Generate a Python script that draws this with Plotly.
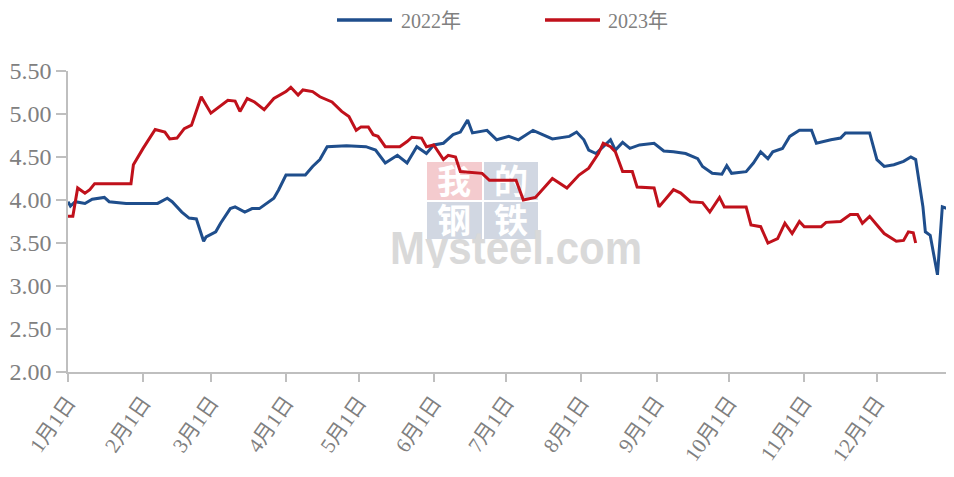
import base64
import plotly.graph_objects as go

# ---------------- data ----------------
dates_2022 = ["01-01", "01-02", "01-04", "01-08", "01-11", "01-16", "01-18", "01-25",
              "02-07", "02-11", "02-13", "02-17", "02-20", "02-23", "02-26", "02-27",
              "03-03", "03-05", "03-09", "03-11", "03-15", "03-18", "03-21", "03-25",
              "03-27", "03-29", "04-01", "04-09", "04-12", "04-15", "04-18", "04-26",
              "05-04", "05-08", "05-12", "05-17", "05-21", "05-25", "05-29", "06-01",
              "06-05", "06-09", "06-12", "06-15", "06-17", "06-23", "06-27", "07-02",
              "07-06", "07-12", "07-16", "07-20", "07-27", "07-30", "08-02", "08-04",
              "08-07", "08-10", "08-13", "08-15", "08-18", "08-21", "08-25", "08-31",
              "09-04", "09-08", "09-13", "09-18", "09-20", "09-24", "09-28", "09-30",
              "10-02", "10-08", "10-11", "10-14", "10-17", "10-19", "10-23", "10-26",
              "10-30", "11-04", "11-06", "11-12", "11-16", "11-18", "11-28", "12-01",
              "12-04", "12-08", "12-12", "12-15", "12-17", "12-20", "12-21", "12-23",
              "12-26", "12-28", "12-30", "12-31"]
values_2022 = [3.98, 3.93, 3.98, 3.96, 4.01, 4.03, 3.98, 3.96,
               3.96, 4.02, 3.98, 3.86, 3.79, 3.78, 3.52, 3.57,
               3.63, 3.73, 3.90, 3.92, 3.86, 3.90, 3.90, 3.98,
               4.02, 4.12, 4.29, 4.29, 4.39, 4.47, 4.62, 4.63,
               4.62, 4.58, 4.43, 4.52, 4.43, 4.62, 4.54, 4.64,
               4.66, 4.76, 4.79, 4.93, 4.78, 4.81, 4.70, 4.74,
               4.70, 4.81, 4.76, 4.71, 4.74, 4.79, 4.70, 4.58,
               4.54, 4.62, 4.70, 4.58, 4.67, 4.60, 4.64, 4.66,
               4.57, 4.56, 4.54, 4.48, 4.39, 4.31, 4.30, 4.40,
               4.31, 4.33, 4.43, 4.56, 4.48, 4.56, 4.60, 4.74,
               4.81, 4.81, 4.66, 4.70, 4.72, 4.78, 4.78, 4.47,
               4.39, 4.41, 4.45, 4.50, 4.47, 3.92, 3.63, 3.59,
               3.13, 3.92, 3.90, 3.84]

dates_2023 = ["01-01", "01-03", "01-05", "01-08", "01-10", "01-12", "01-27", "01-28",
              "02-01", "02-06", "02-10", "02-12", "02-15", "02-18", "02-21", "02-25",
              "03-01", "03-04", "03-08", "03-11", "03-13", "03-16", "03-19", "03-23",
              "03-27", "04-01", "04-03", "04-06", "04-08", "04-12", "04-15", "04-20",
              "04-24", "04-27", "04-30", "05-02", "05-05", "05-07", "05-09", "05-12",
              "05-18", "05-21", "05-23", "05-27", "05-29", "06-01", "06-05", "06-07",
              "06-10", "06-12", "06-21", "06-24", "07-05", "07-08", "07-13", "07-20",
              "07-26", "07-31", "08-04", "08-08", "08-10", "08-13", "08-15", "08-18",
              "08-22", "08-24", "08-31", "09-02", "09-08", "09-11", "09-15", "09-20",
              "09-23", "09-27", "09-29", "10-08", "10-10", "10-14", "10-17", "10-21",
              "10-24", "10-27", "10-30", "11-01", "11-08", "11-10", "11-16", "11-20",
              "11-23", "11-25", "11-28", "12-01", "12-04", "12-09", "12-12", "12-14",
              "12-16", "12-17"]
values_2023 = [3.81, 3.81, 4.14, 4.08, 4.12, 4.19, 4.19, 4.41,
               4.60, 4.82, 4.79, 4.71, 4.72, 4.83, 4.87, 5.20,
               5.01, 5.07, 5.16, 5.15, 5.03, 5.18, 5.14, 5.05,
               5.18, 5.26, 5.31, 5.22, 5.28, 5.26, 5.20, 5.14,
               5.03, 4.97, 4.81, 4.85, 4.85, 4.76, 4.74, 4.62,
               4.62, 4.68, 4.73, 4.72, 4.62, 4.64, 4.47, 4.52,
               4.50, 4.33, 4.31, 4.23, 4.23, 4.00, 4.03, 4.25,
               4.14, 4.29, 4.37, 4.54, 4.66, 4.62, 4.56, 4.33,
               4.33, 4.15, 4.14, 3.92, 4.12, 4.08, 3.98, 3.97,
               3.86, 4.03, 3.92, 3.92, 3.71, 3.69, 3.50, 3.55,
               3.73, 3.61, 3.75, 3.69, 3.69, 3.74, 3.75, 3.83,
               3.83, 3.73, 3.81, 3.71, 3.61, 3.52, 3.53, 3.63,
               3.62, 3.50]

series_names = ["2022年", "2023年"]
tick_dates = ["01-01", "02-01", "03-01", "04-01", "05-01", "06-01",
              "07-01", "08-01", "09-01", "10-01", "11-01", "12-01"]
tick_labels = ["1月1日", "2月1日", "3月1日", "4月1日", "5月1日", "6月1日",
               "7月1日", "8月1日", "9月1日", "10月1日", "11月1日", "12月1日"]
y_ticks = [2.0, 2.5, 3.0, 3.5, 4.0, 4.5, 5.0, 5.5]

# common display year so both years share one Jan-Dec axis
BASE = "2022-"
def to_dates(lst):
    return [BASE + d for d in lst]

BLUE = "#1F4E8C"
RED = "#C0111B"
GREY_TXT = "#808080"
AXIS = "#BFBFBF"
FONT = "Liberation Serif, Noto Sans CJK SC, serif"

# figure geometry (the page body adds an 8px offset)
W, H = 946, 469
L, R, T, B = 60, 2, 63, 105
PW, PH = W - L - R, H - T - B

def px_x(px):   # page pixel -> paper x
    return (px - 8 - L) / PW

def px_y(py):   # page pixel -> paper y
    return (T + PH - (py - 8)) / PH

# ---------------- watermark (SVG image, drawn below the lines) ----------------
svg = """<svg xmlns='http://www.w3.org/2000/svg' width='257' height='108' viewBox='0 0 257 108'>
<rect x='39' y='2' width='55' height='38' fill='#F3C3C6'/>
<rect x='96' y='2' width='54' height='38' fill='#C9D1DD'/>
<rect x='39' y='42' width='55' height='37' fill='#C9D1DD'/>
<rect x='96' y='42' width='54' height='37' fill='#C9D1DD'/>
<g font-family='Noto Sans CJK SC' font-size='34' font-weight='bold' fill='#FFFFFF' text-anchor='middle'>
<text x='66' y='34'>我</text><text x='123' y='34'>的</text>
<text x='66' y='73'>钢</text><text x='123' y='73'>铁</text>
</g>
<text x='2' y='104' font-family='Liberation Sans, Arial, sans-serif' font-weight='bold' font-size='46'
 fill='#D3D3D3' textLength='252' lengthAdjust='spacingAndGlyphs'>Mysteel.com</text>
</svg>"""
svg_uri = "data:image/svg+xml;base64," + base64.b64encode(svg.encode("utf-8")).decode("ascii")

fig = go.Figure()
fig.add_trace(go.Scatter(x=to_dates(dates_2022), y=values_2022, mode="lines",
                         name=series_names[0], line=dict(color=BLUE, width=3),
                         showlegend=False))
fig.add_trace(go.Scatter(x=to_dates(dates_2023), y=values_2023, mode="lines",
                         name=series_names[1], line=dict(color=RED, width=3),
                         showlegend=False))

# legend drawn as line keys + labels to match the long key lines
legend_keys = [(337, 392, 400, BLUE, series_names[0]),
               (545, 600, 607, RED, series_names[1])]
LEG_Y = 21
shapes, annotations = [], []
for x0, x1, xt, col, name in legend_keys:
    shapes.append(dict(type="line", xref="paper", yref="paper",
                       x0=px_x(x0), x1=px_x(x1), y0=px_y(LEG_Y - 1), y1=px_y(LEG_Y - 1),
                       line=dict(color=col, width=3.5)))
    annotations.append(dict(text=name, xref="paper", yref="paper",
                            x=px_x(xt), y=px_y(LEG_Y), xanchor="left", yanchor="middle",
                            showarrow=False, borderpad=0,
                            font=dict(family=FONT, size=20, color=GREY_TXT)))

fig.update_layout(
    width=W, height=H,
    margin=dict(l=L, r=R, t=T, b=B, autoexpand=False),
    paper_bgcolor="white", plot_bgcolor="white",
    font=dict(family=FONT, color=GREY_TXT),
    showlegend=False,
    shapes=shapes, annotations=annotations,
    xaxis=dict(type="date", range=[BASE + "01-01", "2023-01-01"],
               tickvals=to_dates(tick_dates), ticktext=tick_labels,
               tickangle=-55, tickfont=dict(family=FONT, size=21, color=GREY_TXT),
               showline=True, linecolor=AXIS, linewidth=1.5,
               ticks="outside", ticklen=8, tickcolor=AXIS, tickwidth=1.5,
               showgrid=False, zeroline=False, fixedrange=True),
    yaxis=dict(range=[2.0, 5.5], tickvals=y_ticks, tickformat=".2f",
               tickfont=dict(family=FONT, size=24, color=GREY_TXT),
               showline=True, linecolor=AXIS, linewidth=1.5,
               ticks="outside", ticklen=10, tickcolor=AXIS, tickwidth=1.5,
               showgrid=False, zeroline=False, fixedrange=True),
    images=[dict(source=svg_uri, xref="paper", yref="paper",
                 x=px_x(388), y=px_y(160),
                 sizex=257 / PW, sizey=108 / PH,
                 xanchor="left", yanchor="top", sizing="stretch",
                 opacity=0.85, layer="below")],
)

fig.write_html("out.html")
